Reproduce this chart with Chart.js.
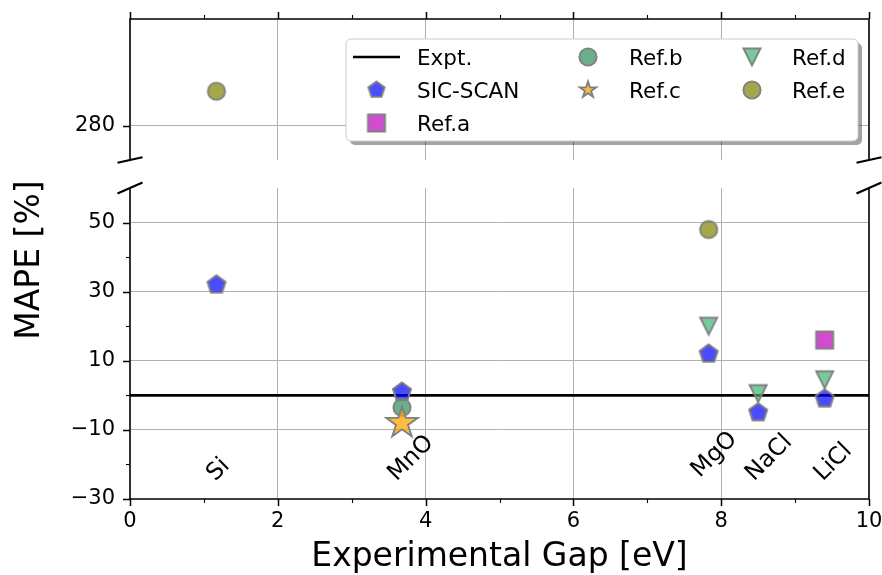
<!DOCTYPE html>
<html>
<head>
<meta charset="utf-8">
<script src="https://cdn.jsdelivr.net/npm/chart.js@4.4.1/dist/chart.umd.min.js"></script>
<style>
  html, body { margin: 0; padding: 0; background: #ffffff; }
  #wrap { position: relative; width: 882px; height: 575px; }
  #wrap canvas { position: absolute; left: 0; top: 0; }
</style>
</head>
<body>
<div id="wrap">
  <canvas id="upper" width="882" height="575"></canvas>
  <canvas id="lower" width="882" height="575"></canvas>
</div>
<script>
// ---- data -------------------------------------------------------------
const compounds = ['Si', 'MnO', 'MgO', 'NaCl', 'LiCl'];
const gaps      = [1.17, 3.68, 7.83, 8.5, 9.4];          // experimental gap, eV
const sicScan   = [32, 1, 12, -5, -1];                   // MAPE, %
const refA      = [null, null, null, null, 16];
const refB      = [null, -3.5, null, null, null];
const refC      = [null, -8, null, null, null];
const refD      = [null, null, 20, 0.5, 4.5];
const refE      = [290, null, 48, null, null];
const exptX     = [0, 10];
const exptY     = [0, 0];

// ---- ticks ------------------------------------------------------------
const xMajor      = [0, 2, 4, 6, 8, 10];
const xMinor      = [1, 3, 5, 7, 9];
const lowerYMajor = [-30, -10, 10, 30, 50];
const lowerYMinor = [-20, 0, 20, 40];
const upperYMajor = [280];

// ---- styling ----------------------------------------------------------
const FONT = '"DejaVu Sans", "Liberation Sans", sans-serif';
const GRID = '#b0b0b0';
const EDGE = '#808080';

function fmt(v) { return v < 0 ? '\u2212' + Math.abs(v) : String(v); }

// marker sprites (path radius r, stroke lw)
function marker(shape, r, fill, lw) {
  const pad = lw + 2;
  const dim = 2 * Math.ceil(r + pad);
  const c = document.createElement('canvas');
  c.width = c.height = dim;
  const g = c.getContext('2d');
  const cx = dim / 2, cy = dim / 2;
  g.beginPath();
  if (shape === 'pentagon') {
    for (let i = 0; i < 5; i++) {
      const a = -Math.PI / 2 + i * 2 * Math.PI / 5;
      const px = cx + r * Math.cos(a), py = cy + r * Math.sin(a);
      i ? g.lineTo(px, py) : g.moveTo(px, py);
    }
  } else if (shape === 'star') {
    for (let i = 0; i < 10; i++) {
      const rr = i % 2 ? r * 0.381966 : r;
      const a = -Math.PI / 2 + i * Math.PI / 5;
      const px = cx + rr * Math.cos(a), py = cy + rr * Math.sin(a);
      i ? g.lineTo(px, py) : g.moveTo(px, py);
    }
  } else if (shape === 'square') {
    g.rect(cx - r, cy - r, 2 * r, 2 * r);
  } else if (shape === 'triangleDown') {
    g.moveTo(cx - r, cy - r);
    g.lineTo(cx + r, cy - r);
    g.lineTo(cx, cy + r);
  } else {
    g.arc(cx, cy, r, 0, Math.PI * 2);
  }
  g.closePath();
  g.fillStyle = fill;
  g.fill();
  g.lineWidth = lw;
  g.lineJoin = 'miter';
  g.strokeStyle = EDGE;
  g.stroke();
  return c;
}

const series = [
  { label: 'SIC-SCAN', values: sicScan, shape: 'pentagon',     r: 9.5, lr: 8.5, fill: 'rgba(0,0,255,0.7)' },
  { label: 'Ref.a',    values: refA,    shape: 'square',       r: 8.5, lr: 8.5, fill: 'rgba(191,0,191,0.7)' },
  { label: 'Ref.b',    values: refB,    shape: 'circle',       r: 8.6, lr: 8.6, fill: 'rgba(46,139,87,0.7)' },
  { label: 'Ref.c',    values: refC,    shape: 'star',         r: 16.5, lr: 8.5, fill: 'rgba(255,165,0,0.75)' },
  { label: 'Ref.d',    values: refD,    shape: 'triangleDown', r: 8.5, lr: 8.5, fill: 'rgba(60,179,113,0.7)' },
  { label: 'Ref.e',    values: refE,    shape: 'circle',       r: 8.6, lr: 8.6, fill: 'rgba(128,128,0,0.7)' }
];
series.forEach(s => {
  s.sprite = marker(s.shape, s.r, s.fill, 1.9);
  s.legendSprite = marker(s.shape, s.lr, s.fill, 1.9);
});

function points(values) {
  return gaps.map((g, i) => ({ x: g, y: values[i] })).filter(p => p.y !== null);
}

function buildDatasets(withExpt) {
  const ds = series.map((s, i) => ({
    type: 'scatter',
    label: s.label,
    data: points(s.values),
    pointStyle: s.sprite,
    pointRadius: 10,
    order: series.length - i
  }));
  if (withExpt) {
    ds.unshift({
      type: 'line',
      label: 'Expt.',
      data: exptX.map((x, i) => ({ x: x, y: exptY[i] })),
      borderColor: '#000000',
      borderWidth: 2.6,
      pointRadius: 0,
      showLine: true,
      fill: false,
      order: 20
    });
  }
  return ds;
}

const gridX = ctx => (ctx.tick && (ctx.tick.value === 0 || ctx.tick.value === 10)) ? 'rgba(0,0,0,0)' : GRID;

// ---- frame, ticks and break marks -------------------------------------
function framePlugin(kind) {
  return {
    id: 'frame_' + kind,
    afterDraw(chart) {
      const ctx = chart.ctx;
      const a = chart.chartArea;
      const xs = chart.scales.x, ys = chart.scales.y;
      ctx.save();
      ctx.strokeStyle = '#000000';
      ctx.lineCap = 'butt';
      // spines
      ctx.lineWidth = 1.6;
      ctx.beginPath();
      if (kind === 'upper') {
        ctx.moveTo(a.left, a.bottom); ctx.lineTo(a.left, a.top);
        ctx.lineTo(a.right, a.top); ctx.lineTo(a.right, a.bottom);
      } else {
        ctx.moveTo(a.left, a.top); ctx.lineTo(a.left, a.bottom);
        ctx.lineTo(a.right, a.bottom); ctx.lineTo(a.right, a.top);
      }
      ctx.stroke();
      // x ticks
      const xEdge = kind === 'upper' ? a.top : a.bottom;
      const dir = kind === 'upper' ? -1 : 1;
      [[xMajor, 7, 1.5], [xMinor, 4, 1.1]].forEach(([list, len, w]) => {
        ctx.lineWidth = w;
        list.forEach(v => {
          const px = Math.round(xs.getPixelForValue(v)) + 0.5;
          ctx.beginPath();
          ctx.moveTo(px, xEdge);
          ctx.lineTo(px, xEdge + dir * len);
          ctx.stroke();
        });
      });
      // y ticks
      const yLists = kind === 'upper'
        ? [[upperYMajor, 7, 1.5]]
        : [[lowerYMajor, 7, 1.5], [lowerYMinor, 4, 1.1]];
      yLists.forEach(([list, len, w]) => {
        ctx.lineWidth = w;
        list.forEach(v => {
          const py = Math.round(ys.getPixelForValue(v)) + 0.5;
          ctx.beginPath();
          ctx.moveTo(a.left, py);
          ctx.lineTo(a.left - len, py);
          ctx.stroke();
        });
      });
      // break marks
      const by = kind === 'upper' ? a.bottom : a.top;
      const dy = kind === 'upper' ? 2.8 : 5.5;
      ctx.lineWidth = 2.2;
      [a.left, a.right].forEach(bx => {
        ctx.beginPath();
        ctx.moveTo(bx - 12.5, by + dy);
        ctx.lineTo(bx + 12.5, by - dy);
        ctx.stroke();
      });
      ctx.restore();
    }
  };
}

// ---- legend (upper panel) ---------------------------------------------
const legendPlugin = {
  id: 'boxLegend',
  afterDraw(chart) {
    const ctx = chart.ctx;
    const box = { x: 346, y: 39, w: 512, h: 102, r: 5 };
    ctx.save();
    function rr(x, y, w, h, r) {
      ctx.beginPath();
      ctx.moveTo(x + r, y);
      ctx.arcTo(x + w, y, x + w, y + h, r);
      ctx.arcTo(x + w, y + h, x, y + h, r);
      ctx.arcTo(x, y + h, x, y, r);
      ctx.arcTo(x, y, x + w, y, r);
      ctx.closePath();
    }
    rr(box.x + 4, box.y + 4, box.w, box.h, box.r);
    ctx.fillStyle = 'rgba(0,0,0,0.36)';
    ctx.fill();
    rr(box.x, box.y, box.w, box.h, box.r);
    ctx.fillStyle = '#ffffff';
    ctx.fill();
    ctx.lineWidth = 1;
    ctx.strokeStyle = '#cccccc';
    ctx.stroke();

    const entries = [{ label: 'Expt.', line: true }].concat(series);
    const cols = [
      { handle: 376.5, text: 417 },
      { handle: 588, text: 629 },
      { handle: 752, text: 792 }
    ];
    const rows = [57, 90, 123];
    const layout = [[0, 0], [0, 1], [0, 2], [1, 0], [1, 1], [2, 0], [2, 1]];
    ctx.font = '21.5px ' + FONT;
    ctx.textAlign = 'left';
    ctx.textBaseline = 'alphabetic';
    entries.forEach((e, i) => {
      const [c, r] = layout[i];
      const hx = cols[c].handle, cy = rows[r];
      if (e.line) {
        ctx.strokeStyle = '#000000';
        ctx.lineWidth = 2.6;
        ctx.beginPath();
        ctx.moveTo(hx - 23.5, cy);
        ctx.lineTo(hx + 23.5, cy);
        ctx.stroke();
      } else {
        const sp = e.legendSprite;
        ctx.drawImage(sp, hx - sp.width / 2, cy - sp.height / 2);
      }
      ctx.fillStyle = '#000000';
      ctx.fillText(e.label, cols[c].text, cy + 8);
    });
    ctx.restore();
  }
};

// ---- compound names and axis titles (lower panel) ---------------------
const labelShift = [0, 0.1, 0.08, 0.12, 0.09];   // eV nudge of each name
const annotatePlugin = {
  id: 'annotate',
  afterDraw(chart) {
    const ctx = chart.ctx;
    const xs = chart.scales.x, ys = chart.scales.y;
    const a = chart.chartArea;
    ctx.save();
    ctx.fillStyle = '#000000';
    ctx.font = '23.5px ' + FONT;
    const bottom = ys.getPixelForValue(-25);
    compounds.forEach((name, i) => {
      const m = ctx.measureText(name);
      const asc = m.actualBoundingBoxAscent, desc = m.actualBoundingBoxDescent;
      const side = (m.width + asc + desc) / Math.SQRT2;
      const cx = xs.getPixelForValue(gaps[i] + labelShift[i]);
      const cy = bottom - side / 2;
      ctx.save();
      ctx.translate(cx, cy);
      ctx.rotate(-Math.PI / 4);
      ctx.textAlign = 'center';
      ctx.textBaseline = 'alphabetic';
      ctx.fillText(name, 0, (asc - desc) / 2);
      ctx.restore();
    });
    // axis titles
    ctx.font = '33px ' + FONT;
    ctx.textAlign = 'center';
    ctx.textBaseline = 'alphabetic';
    ctx.fillText('Experimental Gap [eV]', (a.left + a.right) / 2, 566);
    ctx.save();
    ctx.translate(38.5, 260);
    ctx.rotate(-Math.PI / 2);
    ctx.fillText('MAPE [%]', 0, 0);
    ctx.restore();
    ctx.restore();
  }
};

Chart.defaults.font.family = FONT;
Chart.defaults.color = '#000000';

function xScale(showLabels, height) {
  return {
    type: 'linear',
    position: 'bottom',
    min: 0,
    max: 10,
    afterBuildTicks: s => { s.ticks = xMajor.map(v => ({ value: v })); },
    ticks: {
      display: showLabels,
      autoSkip: false,
      maxRotation: 0,
      padding: 10,
      font: { size: 21, family: FONT },
      color: '#000000',
      callback: v => fmt(v)
    },
    grid: { color: gridX, lineWidth: 1, drawTicks: false },
    border: { display: false },
    afterFit: s => { s.height = height; s.paddingLeft = 0; s.paddingRight = 0; }
  };
}

function yScale(min, max, major) {
  return {
    type: 'linear',
    position: 'left',
    min: min,
    max: max,
    afterBuildTicks: s => { s.ticks = major.map(v => ({ value: v })); },
    ticks: {
      autoSkip: false,
      padding: 15,
      font: { size: 21, family: FONT },
      color: '#000000',
      callback: v => fmt(v)
    },
    grid: {
      color: ctx => (ctx.tick && ctx.tick.value === min) ? 'rgba(0,0,0,0)' : GRID,
      lineWidth: 1,
      drawTicks: false
    },
    border: { display: false },
    afterFit: s => { s.width = 100; s.paddingTop = 0; s.paddingBottom = 0; }
  };
}

const common = {
  responsive: false,
  maintainAspectRatio: false,
  animation: false,
  events: [],
  devicePixelRatio: 1,
  plugins: { legend: { display: false }, tooltip: { enabled: false } }
};

// upper panel: 270 .. 311
new Chart(document.getElementById('upper'), {
  type: 'scatter',
  data: { datasets: buildDatasets(false) },
  options: Object.assign({}, common, {
    layout: { padding: { left: 30, right: 13, top: 19, bottom: 0 } },
    scales: { x: xScale(false, 415), y: yScale(270, 311, upperYMajor) }
  }),
  plugins: [framePlugin('upper'), legendPlugin]
});

// lower panel: -30 .. 60
new Chart(document.getElementById('lower'), {
  type: 'scatter',
  data: { datasets: buildDatasets(true) },
  options: Object.assign({}, common, {
    layout: { padding: { left: 30, right: 13, top: 188, bottom: 0 } },
    scales: { x: xScale(true, 76), y: yScale(-30, 60, lowerYMajor) }
  }),
  plugins: [framePlugin('lower'), annotatePlugin]
});
</script>
</body>
</html>
